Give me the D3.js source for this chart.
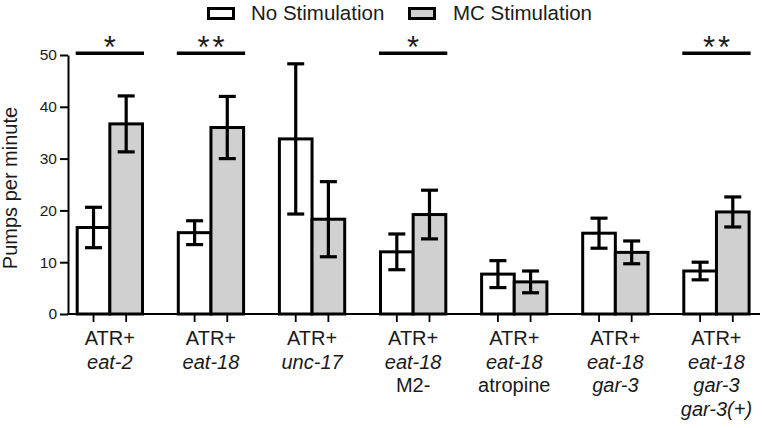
<!DOCTYPE html>
<html>
<head>
<meta charset="utf-8">
<script src="https://cdn.jsdelivr.net/npm/d3@7"></script>
<style>
  html, body { margin: 0; padding: 0; background: #fff; }
  svg { display: block; }
  text { font-family: "Liberation Sans", Arial, Helvetica, sans-serif; fill: #1a1a1a; }
</style>
</head>
<body>
<svg id="chart" width="763" height="428"></svg>
<script>
// ---- data ----
const categories = ["eat-2", "eat-18", "unc-17", "eat-18 M2-", "eat-18 atropine", "eat-18 gar-3", "eat-18 gar-3 gar-3(+)"];
const categoryLabels = [
  ["ATR+", "eat-2"],
  ["ATR+", "eat-18"],
  ["ATR+", "unc-17"],
  ["ATR+", "eat-18", "M2-"],
  ["ATR+", "eat-18", "atropine"],
  ["ATR+", "eat-18", "gar-3"],
  ["ATR+", "eat-18", "gar-3", "gar-3(+)"]
];
const seriesNames = ["No Stimulation", "MC Stimulation"];
const noStimMean = [16.7, 15.7, 33.8, 12.0, 7.7, 15.6, 8.3];
const noStimSem  = [3.9, 2.3, 14.5, 3.45, 2.6, 2.9, 1.7];
const mcStimMean = [36.7, 36.0, 18.3, 19.2, 6.2, 11.9, 19.7];
const mcStimSem  = [5.4, 6.0, 7.25, 4.7, 2.1, 2.2, 2.9];
const significance = ["*", "**", "", "*", "", "", "**"];
const yTicks = [0, 10, 20, 30, 40, 50];
const yTitle = "Pumps per minute";

// ---- layout ----
const svg = d3.select("#chart");
const yTop = 55, yBottom = 314, axisX = 68, axisRight = 760;
const colors = { "No Stimulation": "#ffffff", "MC Stimulation": "#d0d0d0" };

const x = d3.scaleBand().domain(categories).range([59.3, 767]).paddingInner(0.354).paddingOuter(0.177);
const xs = d3.scaleBand().domain(seriesNames).range([0, x.bandwidth()]).padding(0);
const y = d3.scaleLinear().domain([0, 50]).range([yBottom, yTop]);

const rows = categories.map((c, i) => ({
  cat: c, i,
  bars: [
    { s: seriesNames[0], v: noStimMean[i], e: noStimSem[i] },
    { s: seriesNames[1], v: mcStimMean[i], e: mcStimSem[i] }
  ]
}));

// bars
const g = svg.append("g");
const groups = g.selectAll("g.grp").data(rows).join("g")
  .attr("transform", d => `translate(${x(d.cat)},0)`);
groups.selectAll("rect").data(d => d.bars).join("rect")
  .attr("x", d => xs(d.s))
  .attr("width", xs.bandwidth())
  .attr("y", d => y(d.v))
  .attr("height", d => y(0) - y(d.v))
  .attr("fill", d => colors[d.s])
  .attr("stroke", "#000")
  .attr("stroke-width", 3);

// error bars
const capHalf = 8.5;
const eb = groups.selectAll("g.eb").data(d => d.bars).join("g")
  .attr("transform", d => `translate(${xs(d.s) + xs.bandwidth() / 2},0)`)
  .attr("stroke", "#000").attr("stroke-width", 3.2);
eb.append("line").attr("x1", 0).attr("x2", 0)
  .attr("y1", d => y(d.v + d.e)).attr("y2", d => y(d.v - d.e));
eb.append("line").attr("x1", -capHalf).attr("x2", capHalf)
  .attr("y1", d => y(d.v + d.e)).attr("y2", d => y(d.v + d.e));
eb.append("line").attr("x1", -capHalf).attr("x2", capHalf)
  .attr("y1", d => y(d.v - d.e)).attr("y2", d => y(d.v - d.e));

// y axis
const yAxis = d3.axisLeft(y).tickValues(yTicks).tickSize(8).tickSizeOuter(0).tickPadding(3);
const ya = svg.append("g").attr("transform", `translate(${axisX},0)`).call(yAxis);
ya.select(".domain").attr("stroke", "#000").attr("stroke-width", 2);
ya.selectAll(".tick line").attr("stroke", "#000").attr("stroke-width", 2);
ya.selectAll(".tick text").attr("font-size", 15.5)
  .style("font-family", "'Liberation Sans', Arial, sans-serif").attr("fill", "#1a1a1a");

// x axis line
svg.append("line").attr("x1", axisX - 1).attr("x2", axisRight)
  .attr("y1", yBottom).attr("y2", yBottom)
  .attr("stroke", "#000").attr("stroke-width", 2.2);
// x ticks at bar centers
rows.forEach(r => r.bars.forEach(b => {
  const cx = x(r.cat) + xs(b.s) + xs.bandwidth() / 2;
  svg.append("line").attr("x1", cx).attr("x2", cx)
    .attr("y1", yBottom).attr("y2", yBottom + 8)
    .attr("stroke", "#000").attr("stroke-width", 1.8);
}));

// x category labels
const isGene = s => /^[a-z]+-\d/.test(s);
const lbl = svg.append("g");
categoryLabels.forEach((lines, i) => {
  const cx = x(categories[i]) + x.bandwidth() / 2;
  lines.forEach((ln, j) => {
    lbl.append("text")
      .attr("x", cx).attr("y", 345 + j * 23.5)
      .attr("text-anchor", "middle")
      .attr("font-size", 20)
      .attr("font-style", isGene(ln) ? "italic" : "normal")
      .text(ln);
  });
});

// y title
svg.append("text")
  .attr("transform", `translate(17,188) rotate(-90)`)
  .attr("text-anchor", "middle")
  .attr("font-size", 20)
  .text(yTitle);

// significance
significance.forEach((s, i) => {
  if (!s) return;
  const x0 = x(categories[i]) - 1.5, x1 = x(categories[i]) + x.bandwidth() + 1.5;
  svg.append("line").attr("x1", x0).attr("x2", x1)
    .attr("y1", 53.3).attr("y2", 53.3)
    .attr("stroke", "#000").attr("stroke-width", 3.6);
  svg.append("text")
    .attr("x", (x0 + x1) / 2 + (s.length > 1 ? 1.5 : 0)).attr("y", 58)
    .attr("text-anchor", "middle")
    .attr("font-size", 31)
    .attr("letter-spacing", s.length > 1 ? 3 : 0)
    .attr("fill", "#000")
    .text(s);
});

// legend
const legendItems = [
  { name: seriesNames[0], bx: 208.5, tx: 251 },
  { name: seriesNames[1], bx: 409.5, tx: 453 }
];
const lg = svg.append("g");
legendItems.forEach(it => {
  lg.append("rect").attr("x", it.bx).attr("y", 8.5).attr("width", 25).attr("height", 10)
    .attr("fill", colors[it.name]).attr("stroke", "#000").attr("stroke-width", 3);
  lg.append("text").attr("x", it.tx).attr("y", 19.5).attr("font-size", 20.5).text(it.name);
});
</script>
</body>
</html>
